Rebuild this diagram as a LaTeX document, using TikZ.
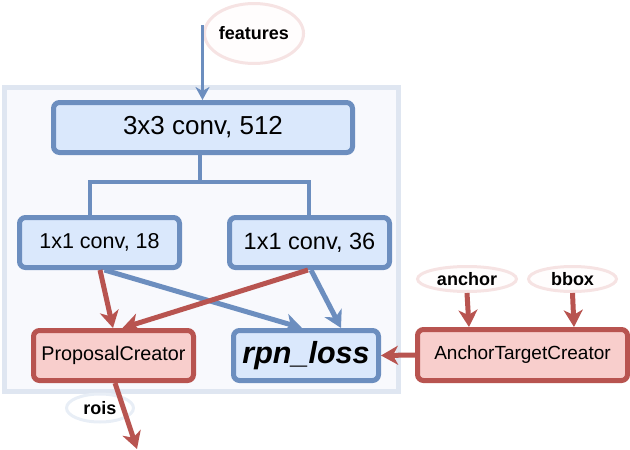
\documentclass[tikz,border=0pt]{standalone}
\usepackage{fontspec}
\setmainfont{Liberation Sans}
\usetikzlibrary{arrows.meta,shapes.geometric}
\definecolor{bstroke}{HTML}{6C8EBF}
\definecolor{bfill}{HTML}{DAE8FC}
\definecolor{rstroke}{HTML}{B85450}
\definecolor{rfill}{HTML}{F8CECC}
\definecolor{cfill}{HTML}{F8F9FD}
\definecolor{cborder}{HTML}{DFE6F1}
\definecolor{pinkline}{HTML}{F6E3E3}
\definecolor{pinkfill}{HTML}{FFFDFD}
\definecolor{roisline}{HTML}{E8EEF6}
\begin{document}
\begin{tikzpicture}[x=1pt,y=-1pt,
  bluebox/.style={draw=bstroke,fill=bfill,line width=5pt,rounded corners=6pt,inner sep=0pt,minimum height=50pt},
  redbox/.style={draw=rstroke,fill=rfill,line width=5pt,rounded corners=6pt,inner sep=0pt,minimum height=50pt},
  lbl/.style={ellipse,draw=pinkline,fill=pinkfill,line width=3pt,inner sep=0pt,font=\bfseries\fontsize{18}{20}\selectfont},
  tree/.style={draw=bstroke,line width=4pt},
  bigarrow/.style={line width=5pt,-{Stealth[length=17pt,width=19pt,inset=5pt]}},
  smallarrow/.style={line width=3pt,draw=bstroke,-{Stealth[length=13pt,width=14pt,inset=4pt]}}
]
\useasboundingbox (0,0) rectangle (630,450);
% container
\node[draw=cborder,fill=cfill,line width=5pt,minimum width=394pt,minimum height=304pt,inner sep=0pt] (cont) at (201,239) {};
% label ellipses
\node[lbl,minimum width=99pt,minimum height=60pt] (feat) at (254,33.5) {features};
\node[lbl,minimum width=99pt,minimum height=25pt] (anc) at (467,279) {anchor};
\node[lbl,minimum width=88pt,minimum height=25pt] (bbox) at (572.5,279) {bbox};
\node[lbl,draw=roisline,fill=white,minimum width=67pt,minimum height=28pt] (rois) at (100,408) {rois};
% boxes
\node[bluebox,minimum width=299pt,font=\fontsize{26}{30}\selectfont] (c3) at (203,127.5) {3x3 conv, 512};
\node[bluebox,minimum width=160pt,font=\fontsize{21.5}{25}\selectfont] (c18) at (99.5,242.5) {1x1 conv, 18};
\node[bluebox,minimum width=160pt,font=\fontsize{23.5}{27}\selectfont] (c36) at (309.5,242.5) {1x1 conv, 36};
\node[redbox,minimum width=160pt,font=\fontsize{19.8}{23}\selectfont] (pc) at (113.5,355.5) {ProposalCreator};
\node[bluebox,minimum width=145pt,font=\bfseries\itshape\fontsize{30.5}{34}\selectfont] (loss) at (306,355.5) {rpn\_loss};
\node[redbox,minimum width=210pt,minimum height=51pt,font=\fontsize{19}{22}\selectfont] (atc) at (522.5,355) {AnchorTargetCreator};
\coordinate (out) at (137,449);
\coordinate (fstart) at (202.5,25);
% tree connector
\draw[tree] ([xshift=-3.5pt]c3.south) -- ([xshift=-3.5pt]c3.south |- 0,182);
\draw[tree] ([xshift=-10pt]c18.north) |- ([xshift=-0.5pt]c36.north |- 0,182) -- ([xshift=-0.5pt]c36.north);
% arrows
\draw[smallarrow] (fstart) -- ([xshift=-0.5pt]c3.north);
\draw[bigarrow,draw=bstroke] ([xshift=5pt]c18.south) -- ([xshift=-4pt]loss.north);
\draw[bigarrow,draw=bstroke] ([xshift=1.5pt]c36.south) -- ([xshift=35pt]loss.north);
\draw[bigarrow,draw=rstroke] ([xshift=0.5pt]c18.south) -- ([xshift=-0.5pt]pc.north);
\draw[bigarrow,draw=rstroke] ([xshift=-1.5pt]c36.south) -- ([xshift=9pt]pc.north);
\draw[bigarrow,draw=rstroke] (atc.west) -- (loss.east);
\draw[bigarrow,draw=rstroke] (anc.south) -- ([xshift=-53.5pt]atc.north);
\draw[bigarrow,draw=rstroke] (bbox.south) -- ([xshift=51.5pt]atc.north);
\draw[bigarrow,draw=rstroke] ([xshift=1.5pt]pc.south) -- (out);
\end{tikzpicture}
\end{document}
